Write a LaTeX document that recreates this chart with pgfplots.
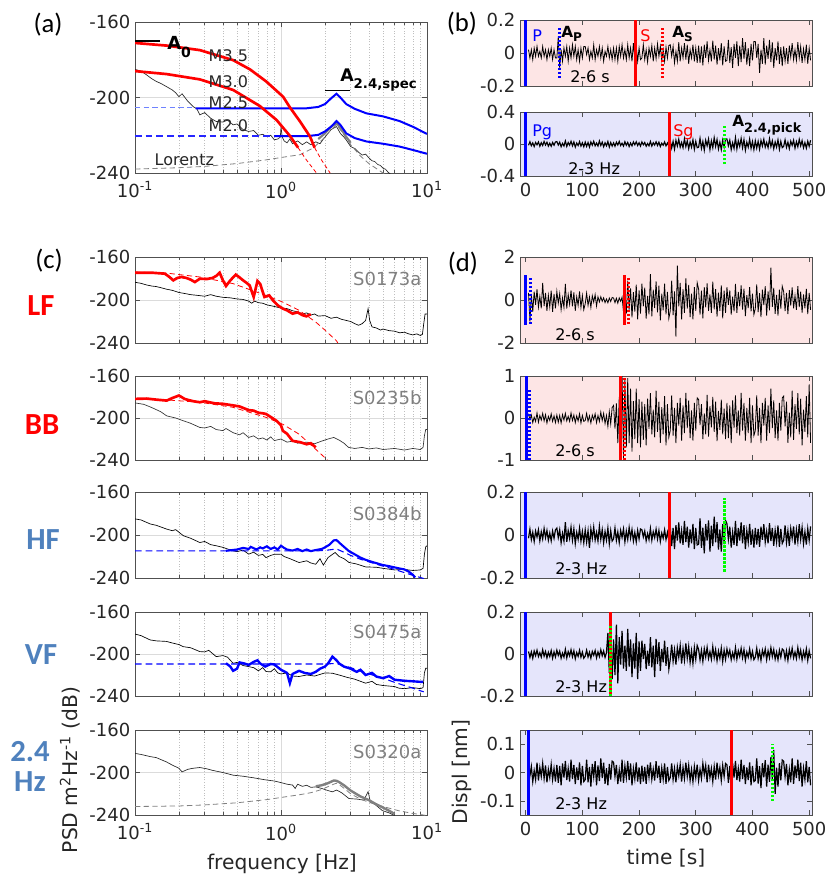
\documentclass[border=0pt]{standalone}
\usepackage{fontspec}
\setmainfont{DejaVu Sans}
\newfontfamily\calib{Carlito}
\usepackage{pgfplots}
\usepackage{pgfplotstable}
\pgfplotsset{compat=1.18}

\definecolor{axc}{RGB}{80,80,80}
\definecolor{txc}{RGB}{38,38,38}
\definecolor{pinkbg}{RGB}{253,229,229}
\definecolor{lavbg}{RGB}{229,229,251}
\definecolor{sblue}{RGB}{79,129,189}
\definecolor{lgreen}{RGB}{0,255,0}
\definecolor{lblue}{RGB}{110,130,255}

\newcommand\tfont{\fontsize{13.5}{14}\selectfont}
\newcommand\lfont{\fontsize{15.2}{16}\selectfont}
\newcommand\nfont{\fontsize{12}{13}\selectfont}

% seismograms, one sample every 2.5 s from t = 5 s
\pgfplotstableread[row sep=crcr]{y\\
0.02\\ -0.03\\ 0.02\\ -0.04\\ 0.03\\ -0.02\\ 0.04\\ -0.02\\ 0.01\\ -0.03\\ 0.04\\ -0.02\\ 0.02\\ -0.04\\ 0.02\\ -0.02\\ 0.03\\ -0.04\\ 0.02\\ -0.03\\
-0.03\\ 0.10\\ -0.09\\ 0.02\\ -0.05\\ 0.03\\ -0.02\\ 0.04\\ -0.05\\ 0.03\\ -0.03\\ 0.05\\ -0.02\\ 0.04\\ -0.04\\ 0.02\\ -0.05\\ 0.03\\ -0.03\\ 0.04\\
0.04\\ -0.01\\ 0.03\\ -0.04\\ 0.01\\ -0.03\\ 0.05\\ -0.04\\ 0.02\\ -0.02\\ 0.04\\ -0.03\\ 0.03\\ -0.05\\ 0.01\\ -0.02\\ 0.04\\ -0.03\\ 0.02\\ -0.04\\
0.03\\ -0.04\\ 0.03\\ -0.05\\ 0.04\\ -0.02\\ 0.05\\ -0.03\\ 0.02\\ -0.04\\ 0.05\\ -0.03\\ 0.03\\ -0.05\\ 0.06\\ -0.04\\ 0.04\\ -0.05\\ 0.03\\ -0.04\\
-0.03\\ 0.05\\ -0.04\\ 0.02\\ -0.055\\ 0.03\\ -0.02\\ 0.045\\ -0.05\\ 0.03\\ -0.035\\ 0.055\\ -0.02\\ 0.04\\ -0.045\\ 0.02\\ -0.05\\ 0.035\\ -0.03\\ 0.045\\
0.05\\ -0.02\\ 0.04\\ -0.06\\ 0.01\\ -0.05\\ 0.065\\ -0.05\\ 0.03\\ -0.03\\ 0.06\\ -0.04\\ 0.05\\ -0.065\\ 0.02\\ -0.03\\ 0.05\\ -0.05\\ 0.03\\ -0.06\\
0.045\\ -0.06\\ 0.04\\ -0.075\\ 0.05\\ -0.03\\ 0.07\\ -0.045\\ 0.02\\ -0.05\\ 0.075\\ -0.04\\ 0.045\\ -0.07\\ 0.03\\ -0.045\\ 0.06\\ -0.075\\ 0.04\\ -0.05\\
-0.045\\ 0.08\\ -0.06\\ 0.035\\ -0.09\\ 0.055\\ -0.03\\ 0.07\\ -0.08\\ 0.045\\ -0.055\\ 0.09\\ -0.035\\ 0.065\\ -0.07\\ 0.03\\ -0.08\\ 0.055\\ -0.045\\ 0.07\\
0.07\\ -0.03\\ 0.055\\ -0.12\\ 0.02\\ -0.065\\ 0.09\\ -0.07\\ 0.045\\ -0.035\\ 0.08\\ -0.055\\ 0.065\\ -0.09\\ 0.03\\ -0.045\\ 0.07\\ -0.065\\ 0.035\\ -0.08\\
0.04\\ -0.05\\ 0.03\\ -0.065\\ 0.045\\ -0.025\\ 0.06\\ -0.04\\ 0.02\\ -0.045\\ 0.065\\ -0.03\\ 0.04\\ -0.06\\ 0.025\\ -0.04\\ 0.05\\ -0.065\\ 0.03\\ -0.045\\
}\tbtop

\pgfplotstableread[row sep=crcr]{y\\
-0.016\\ 0.028\\ -0.022\\ 0.013\\ -0.032\\ 0.019\\ -0.01\\ 0.026\\ -0.028\\ 0.016\\ -0.019\\ 0.032\\ -0.013\\ 0.023\\ -0.026\\ 0.01\\ -0.028\\ 0.019\\ -0.016\\ 0.026\\
0.03\\ -0.012\\ 0.023\\ -0.034\\ 0.008\\ -0.026\\ 0.038\\ -0.03\\ 0.019\\ -0.015\\ 0.034\\ -0.023\\ 0.026\\ -0.038\\ 0.012\\ -0.019\\ 0.03\\ -0.026\\ 0.015\\ -0.034\\
0.023\\ -0.03\\ 0.019\\ -0.038\\ 0.026\\ -0.015\\ 0.034\\ -0.023\\ 0.012\\ -0.026\\ 0.038\\ -0.019\\ 0.023\\ -0.034\\ 0.015\\ -0.023\\ 0.03\\ -0.038\\ 0.019\\ -0.026\\
0.015\\ -0.028\\ 0.023\\ -0.013\\ 0.032\\ -0.019\\ 0.01\\ -0.026\\ 0.028\\ -0.016\\ 0.019\\ -0.032\\ 0.013\\ -0.023\\ 0.026\\ -0.01\\ 0.028\\ -0.019\\ 0.016\\ -0.026\\
0.026\\ -0.01\\ 0.019\\ -0.028\\ 0.006\\ -0.023\\ 0.032\\ -0.026\\ 0.016\\ -0.013\\ 0.028\\ -0.019\\ 0.023\\ -0.032\\ 0.01\\ -0.016\\ 0.026\\ -0.023\\ 0.013\\ -0.028\\
0.04\\ -0.052\\ 0.033\\ -0.065\\ 0.046\\ -0.026\\ 0.059\\ -0.04\\ 0.02\\ -0.046\\ 0.065\\ -0.033\\ 0.04\\ -0.059\\ 0.026\\ -0.04\\ 0.052\\ -0.065\\ 0.033\\ -0.046\\
-0.04\\ 0.07\\ -0.055\\ 0.031\\ -0.078\\ 0.047\\ -0.023\\ 0.062\\ -0.07\\ 0.04\\ -0.047\\ 0.078\\ -0.031\\ 0.055\\ -0.062\\ 0.023\\ -0.07\\ 0.047\\ -0.04\\ 0.062\\
0.062\\ -0.023\\ 0.047\\ -0.07\\ 0.016\\ -0.055\\ 0.078\\ -0.062\\ 0.04\\ -0.031\\ 0.07\\ -0.047\\ 0.055\\ -0.078\\ 0.023\\ -0.04\\ 0.062\\ -0.055\\ 0.031\\ -0.07\\
0.04\\ -0.052\\ 0.033\\ -0.065\\ 0.046\\ -0.026\\ 0.059\\ -0.04\\ 0.02\\ -0.046\\ 0.065\\ -0.033\\ 0.04\\ -0.059\\ 0.026\\ -0.04\\ 0.052\\ -0.065\\ 0.033\\ -0.046\\
-0.029\\ 0.052\\ -0.042\\ 0.023\\ -0.058\\ 0.035\\ -0.018\\ 0.047\\ -0.052\\ 0.029\\ -0.035\\ 0.058\\ -0.023\\ 0.042\\ -0.047\\ 0.018\\ -0.052\\ 0.035\\ -0.029\\ 0.047\\
}\tbbot

\pgfplotstableread[row sep=crcr]{y\\
0.33\\ -1.0\\ 0.28\\ -0.55\\ 0.39\\ -0.22\\ 0.5\\ -0.33\\ 0.17\\ -0.39\\ 0.8\\ -0.28\\ 0.33\\ -0.5\\ 0.22\\ -0.33\\ 0.44\\ -0.55\\ 0.28\\ -0.39\\
0.4\\ -0.15\\ 0.3\\ -0.45\\ 0.1\\ -0.35\\ 0.75\\ -0.4\\ 0.25\\ -0.2\\ 0.45\\ -0.3\\ 0.35\\ -0.5\\ 0.15\\ -0.25\\ 0.4\\ -0.35\\ 0.2\\ -0.45\\
-0.18\\ 0.32\\ -0.25\\ 0.14\\ -0.35\\ 0.2\\ -0.1\\ 0.25\\ -0.28\\ 0.15\\ -0.09\\ 0.15\\ -0.06\\ 0.1\\ -0.12\\ 0.05\\ -0.13\\ 0.09\\ -0.07\\ 0.12\\
0.09\\ -0.12\\ 0.08\\ -0.15\\ 0.1\\ -0.06\\ 0.13\\ -0.54\\ 0.27\\ -0.63\\ 0.9\\ -0.45\\ 0.54\\ -0.81\\ 0.36\\ -0.54\\ 0.72\\ -0.9\\ 0.45\\ -0.63\\
0.76\\ -0.29\\ 0.57\\ -0.86\\ 0.19\\ -0.67\\ 1.2\\ -0.76\\ 0.48\\ -0.38\\ 0.86\\ -0.57\\ 0.67\\ -0.95\\ 0.29\\ -0.48\\ 0.76\\ -0.67\\ 0.38\\ -0.86\\
-0.5\\ 0.9\\ -0.7\\ 0.4\\ -1.7\\ 1.6\\ -0.3\\ 0.8\\ -0.9\\ 0.5\\ -0.6\\ 1.0\\ -0.4\\ 0.7\\ -0.8\\ 0.3\\ -0.9\\ 0.6\\ -0.5\\ 0.8\\
0.51\\ -0.68\\ 0.43\\ -0.85\\ 0.6\\ -0.34\\ 0.77\\ -0.51\\ 0.26\\ -0.6\\ 0.85\\ -0.43\\ 0.51\\ -0.77\\ 0.34\\ -0.51\\ 0.68\\ -0.85\\ 0.43\\ -0.6\\
0.6\\ -0.23\\ 0.45\\ -0.68\\ 0.15\\ -0.53\\ 0.75\\ -0.6\\ 0.38\\ -0.3\\ 0.68\\ -0.45\\ 0.53\\ -0.75\\ 0.23\\ -0.38\\ 0.6\\ -0.53\\ 0.3\\ -0.68\\
-0.4\\ 0.72\\ -0.56\\ 0.32\\ -0.8\\ 0.48\\ -0.24\\ 0.64\\ -0.72\\ 0.4\\ -0.48\\ 1.5\\ -0.32\\ 0.56\\ -0.64\\ 0.24\\ -0.72\\ 0.48\\ -0.4\\ 0.64\\
0.39\\ -0.52\\ 0.33\\ -0.65\\ 0.46\\ -0.26\\ 0.59\\ -0.39\\ 0.2\\ -0.46\\ 0.65\\ -0.33\\ 0.39\\ -0.59\\ 0.26\\ -0.39\\ 0.52\\ -0.65\\ 0.33\\ -0.46\\
}\tdone

\pgfplotstableread[row sep=crcr]{y\\
0.1\\ -0.04\\ 0.07\\ -0.11\\ 0.02\\ -0.08\\ 0.12\\ -0.1\\ 0.06\\ -0.05\\ 0.11\\ -0.07\\ 0.08\\ -0.12\\ 0.04\\ -0.06\\ 0.1\\ -0.08\\ 0.05\\ -0.11\\
0.07\\ -0.1\\ 0.06\\ -0.12\\ 0.08\\ -0.05\\ 0.11\\ -0.07\\ 0.04\\ -0.08\\ 0.12\\ -0.06\\ 0.07\\ -0.11\\ 0.05\\ -0.07\\ 0.1\\ -0.12\\ 0.06\\ -0.08\\
-0.06\\ 0.11\\ -0.08\\ 0.05\\ -0.12\\ 0.07\\ -0.04\\ 0.1\\ -0.11\\ 0.06\\ -0.08\\ 0.14\\ -0.06\\ 0.11\\ -0.13\\ 0.06\\ -0.2\\ 0.15\\ -0.14\\ 0.25\\
0.3\\ -0.25\\ 0.35\\ -0.6\\ 0.5\\ -0.8\\ 1.0\\ -0.95\\ 0.9\\ -0.7\\ 0.95\\ -0.6\\ 0.7\\ -0.8\\ 0.4\\ -0.5\\ 0.7\\ -0.6\\ 0.45\\ -0.7\\
0.39\\ -0.52\\ 0.33\\ -0.65\\ 0.46\\ -0.26\\ 0.59\\ -0.39\\ 0.2\\ -0.46\\ 0.65\\ -0.33\\ 0.39\\ -0.59\\ 0.26\\ -0.39\\ 0.52\\ -0.65\\ 0.33\\ -0.46\\
-0.3\\ 0.54\\ -0.42\\ 0.24\\ -0.6\\ 0.36\\ -0.18\\ 0.48\\ -0.54\\ 0.3\\ -0.36\\ 0.6\\ -0.24\\ 0.42\\ -0.48\\ 0.18\\ -0.54\\ 0.36\\ -0.3\\ 0.48\\
0.44\\ -0.17\\ 0.33\\ -0.5\\ 0.11\\ -0.39\\ 0.55\\ -0.44\\ 0.28\\ -0.22\\ 0.5\\ -0.33\\ 0.39\\ -0.55\\ 0.17\\ -0.28\\ 0.44\\ -0.39\\ 0.22\\ -0.5\\
0.36\\ -0.48\\ 0.3\\ -0.6\\ 0.42\\ -0.24\\ 0.54\\ -0.36\\ 0.18\\ -0.42\\ 0.6\\ -0.3\\ 0.36\\ -0.54\\ 0.24\\ -0.36\\ 0.48\\ -0.6\\ 0.3\\ -0.42\\
-0.3\\ 0.54\\ -0.42\\ 0.24\\ -0.6\\ 0.36\\ -0.18\\ 0.48\\ -0.54\\ 0.3\\ -0.36\\ 0.7\\ -0.24\\ 0.42\\ -0.48\\ 0.18\\ -0.54\\ 0.36\\ -0.3\\ 0.48\\
0.52\\ -0.2\\ 0.39\\ -0.59\\ 0.13\\ -0.46\\ 0.65\\ -0.52\\ 0.33\\ -0.26\\ 0.59\\ -0.39\\ 0.46\\ -0.65\\ 0.2\\ -0.33\\ 0.52\\ -0.46\\ 0.8\\ -0.59\\
}\tdtwo

\pgfplotstableread[row sep=crcr]{y\\
-0.015\\ 0.027\\ -0.021\\ 0.012\\ -0.03\\ 0.018\\ -0.009\\ 0.024\\ -0.027\\ 0.015\\ -0.018\\ 0.03\\ -0.012\\ 0.021\\ -0.024\\ 0.009\\ -0.027\\ 0.018\\ -0.015\\ 0.024\\
0.032\\ -0.012\\ 0.024\\ -0.036\\ 0.008\\ -0.028\\ 0.06\\ -0.032\\ 0.02\\ -0.016\\ 0.036\\ -0.024\\ 0.028\\ -0.04\\ 0.012\\ -0.02\\ 0.032\\ -0.028\\ 0.016\\ -0.036\\
0.024\\ -0.032\\ 0.02\\ -0.06\\ 0.028\\ -0.016\\ 0.036\\ -0.024\\ 0.012\\ -0.028\\ 0.04\\ -0.02\\ 0.024\\ -0.036\\ 0.016\\ -0.024\\ 0.032\\ -0.04\\ 0.02\\ -0.028\\
-0.018\\ 0.032\\ -0.025\\ 0.014\\ -0.035\\ 0.021\\ -0.011\\ 0.028\\ -0.032\\ 0.018\\ -0.021\\ 0.035\\ -0.014\\ 0.025\\ -0.028\\ 0.011\\ -0.032\\ 0.021\\ -0.018\\ 0.028\\
0.024\\ -0.009\\ 0.018\\ -0.027\\ 0.006\\ -0.021\\ 0.03\\ -0.024\\ 0.015\\ -0.012\\ 0.027\\ -0.018\\ 0.021\\ -0.03\\ 0.009\\ -0.015\\ 0.024\\ -0.021\\ 0.012\\ -0.027\\
0.039\\ -0.052\\ 0.033\\ -0.065\\ 0.046\\ -0.026\\ 0.059\\ -0.039\\ 0.02\\ -0.046\\ 0.065\\ -0.033\\ 0.039\\ -0.059\\ 0.026\\ -0.039\\ 0.052\\ -0.065\\ 0.033\\ -0.046\\
-0.043\\ 0.077\\ -0.06\\ 0.034\\ -0.085\\ 0.051\\ -0.026\\ 0.068\\ -0.077\\ 0.043\\ -0.051\\ 0.085\\ -0.034\\ 0.06\\ -0.068\\ 0.026\\ -0.077\\ 0.051\\ -0.043\\ 0.068\\
0.052\\ -0.02\\ 0.039\\ -0.059\\ 0.013\\ -0.046\\ 0.065\\ -0.052\\ 0.033\\ -0.026\\ 0.059\\ -0.039\\ 0.046\\ -0.065\\ 0.02\\ -0.033\\ 0.052\\ -0.046\\ 0.026\\ -0.059\\
0.033\\ -0.044\\ 0.028\\ -0.055\\ 0.039\\ -0.022\\ 0.05\\ -0.033\\ 0.017\\ -0.039\\ 0.055\\ -0.028\\ 0.033\\ -0.05\\ 0.022\\ -0.033\\ 0.044\\ -0.055\\ 0.028\\ -0.039\\
-0.025\\ 0.045\\ -0.035\\ 0.02\\ -0.05\\ 0.03\\ -0.015\\ 0.04\\ -0.045\\ 0.025\\ -0.03\\ 0.05\\ -0.02\\ 0.035\\ -0.04\\ 0.015\\ -0.045\\ 0.03\\ -0.025\\ 0.04\\
}\tdthree

\pgfplotstableread[row sep=crcr]{y\\
0.012\\ -0.016\\ 0.01\\ -0.02\\ 0.014\\ -0.008\\ 0.018\\ -0.012\\ 0.006\\ -0.014\\ 0.02\\ -0.01\\ 0.012\\ -0.018\\ 0.008\\ -0.012\\ 0.016\\ -0.02\\ 0.01\\ -0.014\\
0.018\\ -0.007\\ 0.013\\ -0.02\\ 0.004\\ -0.015\\ 0.022\\ -0.018\\ 0.011\\ -0.009\\ 0.02\\ -0.013\\ 0.015\\ -0.022\\ 0.007\\ -0.011\\ 0.018\\ -0.015\\ 0.009\\ -0.02\\
-0.01\\ 0.018\\ -0.014\\ 0.008\\ -0.02\\ 0.012\\ -0.006\\ 0.016\\ -0.018\\ 0.01\\ -0.012\\ 0.02\\ -0.008\\ 0.014\\ -0.016\\ 0.006\\ 0.1\\ -0.09\\ 0.06\\ -0.12\\
0.07\\ -0.1\\ 0.14\\ -0.14\\ 0.08\\ -0.05\\ 0.11\\ -0.07\\ 0.04\\ -0.08\\ 0.12\\ -0.06\\ 0.07\\ -0.11\\ 0.05\\ -0.07\\ 0.1\\ -0.12\\ 0.06\\ -0.08\\
0.064\\ -0.024\\ 0.048\\ -0.072\\ 0.016\\ -0.056\\ 0.08\\ -0.064\\ 0.04\\ -0.11\\ 0.072\\ -0.048\\ 0.056\\ -0.08\\ 0.024\\ -0.04\\ 0.064\\ -0.056\\ 0.032\\ -0.072\\
-0.025\\ 0.045\\ -0.035\\ 0.02\\ -0.05\\ 0.03\\ -0.015\\ 0.04\\ -0.045\\ 0.025\\ -0.03\\ 0.05\\ -0.02\\ 0.035\\ -0.04\\ 0.015\\ -0.045\\ 0.03\\ -0.025\\ 0.04\\
0.021\\ -0.028\\ 0.018\\ -0.035\\ 0.025\\ -0.014\\ 0.032\\ -0.021\\ 0.011\\ -0.025\\ 0.035\\ -0.018\\ 0.021\\ -0.032\\ 0.014\\ -0.021\\ 0.028\\ -0.035\\ 0.018\\ -0.025\\
0.024\\ -0.009\\ 0.018\\ -0.027\\ 0.006\\ -0.021\\ 0.03\\ -0.024\\ 0.015\\ -0.012\\ 0.027\\ -0.018\\ 0.021\\ -0.03\\ 0.009\\ -0.015\\ 0.024\\ -0.021\\ 0.012\\ -0.027\\
-0.015\\ 0.027\\ -0.021\\ 0.012\\ -0.03\\ 0.018\\ -0.009\\ 0.024\\ -0.027\\ 0.015\\ -0.018\\ 0.03\\ -0.012\\ 0.021\\ -0.024\\ 0.009\\ -0.027\\ 0.018\\ -0.015\\ 0.024\\
0.018\\ -0.024\\ 0.015\\ -0.03\\ 0.021\\ -0.012\\ 0.027\\ -0.018\\ 0.009\\ -0.021\\ 0.03\\ -0.015\\ 0.018\\ -0.027\\ 0.012\\ -0.018\\ 0.024\\ -0.03\\ 0.015\\ -0.021\\
}\tdfour

\pgfplotstableread[row sep=crcr]{y\\
0.028\\ -0.011\\ 0.021\\ -0.032\\ 0.007\\ -0.025\\ 0.035\\ -0.028\\ 0.018\\ -0.014\\ 0.032\\ -0.021\\ 0.025\\ -0.035\\ 0.011\\ -0.018\\ 0.028\\ -0.025\\ 0.014\\ -0.032\\
0.027\\ -0.036\\ 0.023\\ -0.045\\ 0.032\\ -0.018\\ 0.041\\ -0.027\\ 0.014\\ -0.032\\ 0.045\\ -0.023\\ 0.027\\ -0.041\\ 0.018\\ -0.027\\ 0.036\\ -0.045\\ 0.023\\ -0.032\\
-0.025\\ 0.045\\ -0.035\\ 0.02\\ -0.05\\ 0.03\\ -0.015\\ 0.04\\ -0.045\\ 0.025\\ -0.03\\ 0.05\\ -0.02\\ 0.035\\ -0.04\\ 0.015\\ -0.045\\ 0.03\\ -0.025\\ 0.04\\
0.036\\ -0.014\\ 0.027\\ -0.041\\ 0.009\\ -0.032\\ 0.045\\ -0.036\\ 0.023\\ -0.018\\ 0.041\\ -0.027\\ 0.032\\ -0.045\\ 0.014\\ -0.023\\ 0.036\\ -0.032\\ 0.018\\ -0.041\\
0.024\\ -0.032\\ 0.02\\ -0.04\\ 0.028\\ -0.016\\ 0.036\\ -0.024\\ 0.012\\ -0.028\\ 0.04\\ -0.02\\ 0.024\\ -0.036\\ 0.016\\ -0.024\\ 0.032\\ -0.04\\ 0.02\\ -0.028\\
-0.018\\ 0.032\\ -0.025\\ 0.014\\ -0.035\\ 0.021\\ -0.011\\ 0.028\\ -0.032\\ 0.018\\ -0.021\\ 0.035\\ -0.014\\ 0.025\\ -0.028\\ 0.011\\ -0.032\\ 0.021\\ -0.018\\ 0.028\\
-0.028\\ 0.011\\ -0.021\\ 0.032\\ -0.007\\ 0.025\\ -0.035\\ 0.028\\ -0.018\\ 0.014\\ -0.032\\ 0.021\\ -0.025\\ 0.035\\ -0.011\\ 0.018\\ -0.028\\ 0.025\\ -0.014\\ 0.032\\
0.027\\ -0.036\\ 0.023\\ -0.06\\ 0.032\\ -0.018\\ 0.041\\ -0.027\\ 0.014\\ -0.032\\ 0.045\\ -0.023\\ 0.027\\ -0.041\\ 0.018\\ -0.027\\ 0.036\\ -0.045\\ 0.023\\ -0.032\\
-0.028\\ 0.05\\ -0.039\\ 0.022\\ -0.055\\ 0.033\\ -0.017\\ 0.044\\ -0.05\\ 0.028\\ -0.033\\ 0.055\\ -0.022\\ 0.08\\ -0.075\\ 0.017\\ -0.05\\ 0.033\\ -0.028\\ 0.044\\
0.04\\ -0.015\\ 0.03\\ -0.045\\ 0.01\\ -0.035\\ 0.05\\ -0.04\\ 0.025\\ -0.02\\ 0.045\\ -0.03\\ 0.035\\ -0.05\\ 0.015\\ -0.025\\ 0.04\\ -0.035\\ 0.02\\ -0.045\\
}\tdfive

% settings shared by every axis
\pgfkeys{/pgf/number format/assume math mode=true}
\pgfplotsset{scale only axis, width=219pt}
\pgfplotsset{axis line style={draw=axc, line width=0.6pt}}
\pgfplotsset{tick style={draw=axc, line width=0.5pt}}
\pgfplotsset{tick align=inside, major tick length=3.5pt, minor tick length=2pt}
\pgfplotsset{tick label style={font=\tfont, text=txc}}
\pgfplotsset{no markers}

% spectrum panels: frequencies in Hz are placed on a decade scale (log10)
\newcommand\specaxis{\pgfplotsset{x filter/.expression={log10(x)},
    xmin=-1, xmax=1, ymin=-240, ymax=-160,
    ytick={-240,-200,-160}, xtick={-1,0,1},
    minor xtick={-0.699,-0.523,-0.398,-0.301,-0.222,-0.155,-0.097,-0.046,0.301,0.477,0.602,0.699,0.778,0.845,0.903,0.954},
    xmajorgrids=true, ymajorgrids=true, xminorgrids=true,
    major grid style={draw=black!14, line width=0.5pt},
    minor grid style={draw=black!25, line width=0.45pt, dash pattern=on 0.8pt off 1.2pt},
    xticklabels={}}}
\newcommand\seisaxis{\pgfplotsset{xmin=-10, xmax=505, xtick={0,100,200,300,400,500}, xticklabels={}}}
\newcommand\freqlabels{\pgfplotsset{xticklabels={10\textsuperscript{-1},10\textsuperscript{0},10\textsuperscript{1}}, xticklabel style={yshift=-3pt}}}
\newcommand\timelabels{\pgfplotsset{xticklabels={0,100,200,300,400,500}, xticklabel style={yshift=-1.5pt}}}

\begin{document}
\begin{tikzpicture}
\useasboundingbox (0,0) rectangle (622.5pt,-658.5pt);

% ---------------- (a) ----------------
\begin{scope}[shift={(101.25pt,-129.75pt)}]
\specaxis\freqlabels
\pgfplotsset{height=113.25pt}
\begin{axis}
\addplot[black!85, line width=0.5pt] coordinates {(0.1,-185.1)(0.11,-186)(0.12,-188)(0.13,-190)(0.14,-191.5)(0.15,-192.5)(0.165,-194.3)(0.18,-196)(0.19,-197.5)(0.2,-199.6)(0.21,-198)(0.23,-202)(0.25,-204.8)(0.265,-206)(0.278,-209.2)(0.3,-208)(0.33,-211)(0.36,-212.7)(0.4,-213)(0.43,-212)(0.47,-214.5)(0.5,-214)(0.55,-217)(0.6,-218)(0.65,-217.5)(0.7,-220)(0.75,-219.5)(0.8,-220.7)(0.85,-220)(0.9,-222.4)(0.95,-222)(0.99,-221)(1.0,-215.4)(1.02,-221)(1.05,-223)(1.1,-224)(1.15,-222)(1.2,-224.5)(1.3,-223)(1.4,-225)(1.5,-223.5)(1.6,-225)(1.73,-223.5)(1.85,-224.5)(1.95,-222)(2.05,-220)(2.2,-217)(2.4,-215.4)(2.55,-219)(2.7,-221)(2.8,-222.5)(3.0,-226)(3.2,-227)(3.4,-229)(3.6,-230.5)(3.8,-230)(4.0,-232)(4.2,-233.5)(4.4,-234)(4.6,-235.5)(4.8,-236)(5.0,-237.5)(5.2,-238)(5.4,-239.5)(5.6,-240.5)(6,-242)};
\addplot[gray, line width=1.6pt] coordinates {(1.8,-222)(2.0,-219)(2.2,-215.5)(2.4,-213.6)(2.55,-216)(2.75,-220)(3.0,-224)};
\addplot[gray, line width=0.6pt, dash pattern=on 4pt off 2.5pt] coordinates {(0.1,-237.9)(0.2,-237.2)(0.3,-236.5)(0.5,-235)(0.8,-233)(1.0,-231.8)(1.35,-230.3)(1.66,-226.8)(2.0,-221)(2.2,-217)(2.4,-214.5)(2.6,-218)(3.0,-225)(3.5,-231)(4,-235)(5,-240)(5.5,-242)};
\addplot[lblue, line width=0.6pt, dash pattern=on 4pt off 2.5pt] coordinates {(0.1,-205.5)(0.26,-205.5)};
\addplot[blue, line width=1.5pt] coordinates {(0.26,-205.7)(1.0,-205.7)(1.5,-205.7)(1.8,-205)(2.0,-203.5)(2.2,-200.5)(2.4,-198)(2.55,-200)(2.8,-203.5)(3.2,-206)(3.85,-208.4)(5,-210)(6.5,-212.5)(8,-215.5)(10,-219.3)};
\addplot[blue!85, line width=1.1pt, dash pattern=on 5pt off 3pt] coordinates {(0.1,-220.3)(0.9,-220.3)};
\addplot[blue, line width=1.5pt] coordinates {(0.9,-220.5)(1.5,-220.5)(1.8,-219.8)(2.0,-218)(2.2,-215.5)(2.4,-212.5)(2.55,-214.5)(2.8,-219)(3.2,-221.5)(3.85,-223.3)(5,-224.5)(6.5,-226)(8,-227.8)(10,-229.8)};
\addplot[red, line width=2pt] coordinates {(0.1,-171.1)(0.165,-172.5)(0.278,-174.9)(0.47,-180.2)(0.613,-185.1)(0.795,-191.6)(1.034,-199.6)(1.15,-205.2)(1.35,-212.7)(1.58,-220.7)(1.70,-226.6)};
\addplot[red, line width=0.6pt, dash pattern=on 3pt off 2pt] coordinates {(1.70,-226.6)(1.89,-233)(2.17,-240)};
\addplot[red, line width=2pt] coordinates {(0.1,-186)(0.165,-187.6)(0.278,-190.4)(0.47,-196)(0.716,-204.5)(0.932,-211.9)(1.15,-220.3)(1.31,-226.6)};
\addplot[red, line width=0.6pt, dash pattern=on 3pt off 2pt] coordinates {(1.31,-226.6)(1.49,-233)(1.75,-240)};
\addplot[black, line width=1.4pt] coordinates {(0.1,-170)(0.148,-170)};
\addplot[black, line width=0.6pt] coordinates {(2.0,-196.4)(2.96,-196.4)};
\end{axis}
\end{scope}

% ---------------- (b) ----------------
\begin{scope}[shift={(390pt,-64.5pt)}]
\seisaxis
\pgfplotsset{height=49.5pt, ymin=-0.2, ymax=0.2, ytick={-0.2,0,0.2}, axis background/.style={fill=pinkbg}}
\begin{axis}
\addplot[black, line width=0.6pt] table[x expr=\coordindex*2.5+5, y=y] {\tbtop};
\addplot[blue, line width=2.2pt] coordinates {(0,-0.2)(0,0.2)};
\addplot[blue, line width=2.2pt, dash pattern=on 1.6pt off 1.4pt] coordinates {(59,-0.15)(59,0.15)};
\addplot[red, line width=2.2pt] coordinates {(193,-0.2)(193,0.2)};
\addplot[red, line width=2.2pt, dash pattern=on 1.6pt off 1.4pt] coordinates {(241,-0.15)(241,0.15)};
\end{axis}
\end{scope}

\begin{scope}[shift={(390pt,-132pt)}]
\seisaxis\timelabels
\pgfplotsset{height=48pt, ymin=-0.4, ymax=0.4, ytick={-0.4,0,0.4}, axis background/.style={fill=lavbg}}
\begin{axis}
\addplot[black, line width=0.85pt] table[x expr=\coordindex*2.5+5, y=y] {\tbbot};
\addplot[blue, line width=2.2pt] coordinates {(0,-0.4)(0,0.4)};
\addplot[red, line width=2.2pt] coordinates {(254,-0.4)(254,0.4)};
\addplot[lgreen, line width=2.2pt, dash pattern=on 1.6pt off 1.4pt] coordinates {(351,-0.25)(351,0.25)};
\end{axis}
\end{scope}

% ---------------- (c) ----------------
\begin{scope}[shift={(101.25pt,-257.25pt)}]
\specaxis
\pgfplotsset{height=64.5pt}
\begin{axis}
\addplot[black, line width=0.5pt] coordinates {(0.1,-183.5)(0.11,-184.5)(0.12,-186)(0.13,-187)(0.14,-187.5)(0.15,-188.5)(0.165,-190)(0.18,-191)(0.2,-193)(0.22,-194)(0.24,-195)(0.26,-195.5)(0.28,-196)(0.3,-196.5)(0.33,-195)(0.36,-196.5)(0.4,-197.5)(0.45,-198)(0.5,-199)(0.55,-199.5)(0.6,-201)(0.63,-203)(0.66,-201)(0.7,-202.5)(0.75,-203)(0.8,-204.5)(0.9,-206)(1.0,-207.5)(1.1,-208)(1.2,-210)(1.3,-211)(1.4,-213)(1.5,-212)(1.6,-214)(1.7,-213)(1.8,-215)(2.0,-214.5)(2.2,-217)(2.4,-216)(2.6,-218)(2.8,-219)(3.0,-220)(3.2,-222)(3.4,-223.5)(3.6,-222)(3.8,-219)(3.95,-208)(4.05,-219)(4.2,-225)(4.5,-226)(4.8,-228)(5.0,-227)(5.5,-228.5)(6.0,-229)(6.5,-230.5)(7.0,-230)(7.5,-231.5)(8.0,-232.5)(8.5,-231.5)(9.0,-233)(9.3,-232)(9.5,-222)(9.7,-213)(10,-213)};
\addplot[red, line width=2pt] coordinates {(0.1,-174.6)(0.13,-174.6)(0.16,-175.5)(0.17,-178)(0.183,-181.7)(0.195,-179.5)(0.208,-178.6)(0.225,-179.5)(0.24,-181)(0.257,-183.3)(0.278,-180.2)(0.31,-180.5)(0.34,-179.5)(0.36,-177.6)(0.38,-174.6)(0.4,-181.7)(0.42,-187)(0.45,-181.7)(0.49,-176.4)(0.52,-179)(0.55,-181.7)(0.58,-184)(0.61,-186.4)(0.65,-197.2)(0.69,-182.3)(0.72,-185)(0.77,-197.2)(0.83,-195.7)(0.88,-200.3)(0.95,-205)(1.03,-208)(1.1,-209.6)(1.2,-212.7)(1.3,-211.5)(1.4,-214)(1.49,-215.2)(1.6,-213.3)};
\addplot[red, line width=0.6pt, dash pattern=on 4pt off 2.5pt] coordinates {(0.1,-174)(0.165,-175)(0.278,-178.6)(0.47,-184.8)(0.79,-195.7)(1.03,-202)(1.33,-209.6)(1.73,-220.5)(2.0,-228)(2.4,-238)(2.45,-240)};
\end{axis}
\end{scope}

\begin{scope}[shift={(101.25pt,-345pt)}]
\specaxis
\pgfplotsset{height=63pt}
\begin{axis}
\addplot[black!80, line width=0.5pt] coordinates {(0.1,-185.6)(0.115,-187)(0.13,-190)(0.15,-194)(0.165,-198)(0.19,-200)(0.214,-202.6)(0.24,-205)(0.278,-209)(0.3,-209.5)(0.33,-208)(0.36,-211)(0.4,-212)(0.42,-210)(0.47,-214)(0.52,-216)(0.55,-214)(0.6,-218.5)(0.65,-217)(0.7,-220)(0.75,-219)(0.8,-221)(0.85,-218)(0.9,-221.5)(1.0,-220)(1.1,-223)(1.2,-222)(1.3,-224)(1.5,-223)(1.7,-224.5)(1.9,-222)(2.1,-220)(2.3,-218.5)(2.5,-221)(2.7,-224)(2.9,-228)(3.2,-229)(3.6,-228)(4,-229.5)(4.5,-228.5)(5,-230)(6,-229)(7,-230.5)(8,-229)(9,-230)(9.4,-228)(9.6,-217)(9.8,-211)(10,-211)};
\addplot[red, line width=2pt] coordinates {(0.1,-181.8)(0.12,-181.5)(0.14,-182.5)(0.165,-183.4)(0.18,-181)(0.2,-178.6)(0.22,-182)(0.25,-184)(0.278,-185)(0.3,-184)(0.35,-186)(0.4,-186.5)(0.47,-188)(0.52,-189)(0.6,-192.5)(0.65,-193)(0.7,-195)(0.75,-195.5)(0.79,-196.2)(0.85,-199)(0.93,-202.6)(1.0,-207)(1.03,-212.2)(1.1,-215)(1.2,-221.8)(1.35,-223)(1.5,-225)(1.6,-224)(1.73,-228)};
\addplot[red, line width=0.6pt, dash pattern=on 4pt off 2.5pt] coordinates {(0.1,-181.8)(0.165,-182.8)(0.278,-185)(0.468,-189.8)(0.79,-199.4)(1.03,-206)(1.33,-215.4)(1.73,-229.8)(2.08,-240)};
\end{axis}
\end{scope}

\begin{scope}[shift={(101.25pt,-433.5pt)}]
\specaxis
\pgfplotsset{height=64.5pt}
\begin{axis}
\addplot[black, line width=0.5pt] coordinates {(0.1,-185)(0.11,-186)(0.127,-189.7)(0.14,-191)(0.164,-194.4)(0.18,-196)(0.19,-195)(0.214,-200.6)(0.24,-203)(0.278,-207)(0.3,-206)(0.33,-209)(0.36,-210)(0.4,-211.5)(0.468,-214.7)(0.5,-215.5)(0.55,-214)(0.6,-217.8)(0.65,-216)(0.7,-219)(0.75,-218)(0.79,-221)(0.85,-219)(0.9,-218)(1.0,-217.8)(1.05,-220)(1.15,-222)(1.33,-225.6)(1.5,-224)(1.6,-226)(1.73,-227.2)(1.85,-222)(1.95,-228)(2.1,-221)(2.25,-218)(2.35,-216.3)(2.5,-220)(2.7,-222)(2.92,-225.5)(3.3,-227)(3.8,-229.7)(4.5,-230)(5,-231)(6,-232.5)(7,-232)(8,-233)(9,-232.5)(9.4,-231)(9.6,-218)(9.8,-211)(10,-210)};
\addplot[blue, line width=1.6pt] coordinates {(0.42,-214.7)(0.5,-213.5)(0.55,-212)(0.6,-213)(0.62,-211)(0.68,-213.5)(0.72,-211.5)(0.75,-212.5)(0.8,-210.5)(0.85,-213)(0.9,-211.5)(0.95,-213.5)(1.0,-210)(1.05,-212)(1.1,-213.5)(1.2,-214.5)(1.3,-213)(1.4,-215)(1.5,-213.5)(1.6,-215)(1.73,-214)(1.9,-213)(2.0,-211.5)(2.15,-209)(2.3,-205)(2.4,-204.7)(2.5,-207)(2.7,-211)(2.92,-215)(3.2,-218)(3.5,-221)(3.8,-223.1)(4.2,-225)(4.94,-227.8)(5.5,-229)(6.41,-231)(7,-232)(7.5,-234)(8,-237)(8.3,-239.5)};
\addplot[blue, line width=0.8pt, dash pattern=on 5pt off 3pt] coordinates {(0.1,-214.7)(1.8,-214.7)(2.1,-214)(2.4,-213)(2.7,-216)(3,-219)(3.5,-222.5)(4,-225)(5,-229)(6,-232)(7,-235)(8,-237.5)(9,-239.5)(9.5,-240.5)};
\end{axis}
\end{scope}

\begin{scope}[shift={(101.25pt,-522pt)}]
\specaxis
\pgfplotsset{height=63pt}
\begin{axis}
\addplot[black, line width=0.5pt] coordinates {(0.1,-181)(0.11,-182.5)(0.127,-186.6)(0.14,-187.5)(0.164,-188)(0.18,-189.5)(0.2,-191)(0.214,-193)(0.24,-194)(0.278,-197.7)(0.3,-198)(0.32,-196.5)(0.36,-202.5)(0.4,-201.5)(0.43,-203)(0.47,-208.8)(0.5,-208)(0.55,-211)(0.6,-212)(0.65,-213)(0.7,-216)(0.75,-213)(0.79,-216.7)(0.85,-217)(0.9,-214)(0.95,-218)(1.0,-219)(1.1,-218)(1.2,-221)(1.33,-221.4)(1.5,-220)(1.7,-221)(2.0,-218)(2.25,-218.3)(2.5,-220)(2.8,-222)(3.2,-224)(3.8,-227.8)(4.2,-226)(4.5,-229)(5,-230)(6,-231)(6.41,-232.5)(7,-233)(8,-232)(9,-233)(9.4,-232)(9.6,-218)(9.8,-213.6)(10,-213.6)};
\addplot[blue, line width=1.8pt] coordinates {(0.42,-208.8)(0.45,-212)(0.47,-216)(0.5,-214)(0.52,-208)(0.56,-209)(0.6,-210.5)(0.65,-207.5)(0.69,-206)(0.72,-209)(0.78,-212)(0.85,-209.5)(0.9,-210)(1.0,-215)(1.1,-218)(1.15,-227.8)(1.2,-219)(1.33,-216)(1.45,-218)(1.6,-219)(1.73,-217)(1.85,-214)(2.0,-212)(2.1,-209)(2.25,-202.5)(2.4,-206)(2.5,-209)(2.7,-212)(3.0,-214)(3.3,-217)(3.5,-215)(3.8,-220)(4.2,-218)(4.5,-221.5)(5,-223)(5.5,-221)(6,-224.5)(7,-225.5)(8,-226)(9,-226.5)(9.4,-226.5)};
\addplot[blue, line width=0.8pt, dash pattern=on 5pt off 3pt] coordinates {(0.1,-209.5)(1.0,-209.5)(2.0,-209.5)(2.4,-209)(3,-213)(4,-219)(5,-223)(6,-227)(7,-230)(8,-232.5)(9,-235)(9.5,-236)};
\end{axis}
\end{scope}

\begin{scope}[shift={(101.25pt,-611.25pt)}]
\specaxis\freqlabels
\pgfplotsset{height=63.75pt}
\begin{axis}
\addplot[black!85, line width=0.5pt] coordinates {(0.1,-182)(0.11,-183)(0.127,-185)(0.14,-186)(0.164,-190)(0.18,-193)(0.2,-196)(0.21,-199.4)(0.23,-197)(0.25,-196)(0.278,-195.3)(0.31,-196.5)(0.34,-198)(0.4,-200)(0.47,-202.5)(0.55,-203.5)(0.65,-205)(0.79,-207)(0.9,-208)(1.0,-209.5)(1.1,-211)(1.2,-211.8)(1.25,-215)(1.3,-211)(1.4,-213)(1.5,-212)(1.6,-214)(1.73,-213.5)(1.9,-215)(2.1,-217)(2.25,-218.2)(2.4,-216.5)(2.6,-219)(2.92,-224.5)(3.3,-225)(3.7,-226)(3.95,-218)(4.1,-228)(4.4,-230)(4.94,-235.8)(5.5,-238)(6,-240.5)};
\addplot[gray, line width=1.8pt] coordinates {(1.73,-213)(1.9,-212)(2.1,-210)(2.3,-207.5)(2.4,-207.8)(2.5,-209)(2.7,-212)(3.0,-217)(3.5,-222.5)(4.0,-226)(4.5,-230)(5.0,-233)(5.5,-236)(6.0,-239)};
\addplot[gray, line width=0.6pt, dash pattern=on 4pt off 2.5pt] coordinates {(0.1,-232)(0.2,-231.5)(0.3,-230.5)(0.5,-228.5)(0.8,-225.5)(1.0,-223.5)(1.33,-221)(1.6,-219)(1.9,-216)(2.2,-212)(2.4,-210)(2.6,-213)(3.0,-220)(3.5,-225)(4,-228)(5,-232)(6.41,-236)(8,-238.5)(10,-240.5)};
\end{axis}
\end{scope}

% ---------------- (d) ----------------
\begin{scope}[shift={(390pt,-257.25pt)}]
\seisaxis
\pgfplotsset{height=64.5pt, ymin=-2, ymax=2, ytick={-2,0,2}, axis background/.style={fill=pinkbg}}
\begin{axis}
\addplot[black, line width=0.6pt] table[x expr=\coordindex*2.5+5, y=y] {\tdone};
\addplot[blue, line width=2.2pt] coordinates {(0,-1.15)(0,1.15)};
\addplot[blue, line width=2.2pt, dash pattern=on 1.6pt off 1.4pt] coordinates {(9,-1.1)(9,1.1)};
\addplot[red, line width=2.2pt] coordinates {(174,-1.15)(174,1.15)};
\addplot[red, line width=2.2pt, dash pattern=on 1.6pt off 1.4pt] coordinates {(182,-1.1)(182,1.1)};
\end{axis}
\end{scope}

\begin{scope}[shift={(390pt,-345pt)}]
\seisaxis
\pgfplotsset{height=63pt, ymin=-1, ymax=1, ytick={-1,0,1}, axis background/.style={fill=pinkbg}}
\begin{axis}
\addplot[black, line width=0.6pt] table[x expr=\coordindex*2.5+5, y=y] {\tdtwo};
\addplot[blue, line width=2.2pt] coordinates {(1,-1)(1,1)};
\addplot[blue, line width=2.2pt, dash pattern=on 1.6pt off 1.4pt] coordinates {(6,-1)(6,0.7)};
\addplot[red, line width=2.2pt] coordinates {(168,-1)(168,1)};
\addplot[red, line width=2.2pt, dash pattern=on 1.6pt off 1.4pt] coordinates {(175,-1)(175,1)};
\end{axis}
\end{scope}

\begin{scope}[shift={(390pt,-433.5pt)}]
\seisaxis
\pgfplotsset{height=64.5pt, ymin=-0.2, ymax=0.2, ytick={-0.2,0,0.2}, axis background/.style={fill=lavbg}}
\begin{axis}
\addplot[black, line width=0.9pt] table[x expr=\coordindex*2.5+5, y=y] {\tdthree};
\addplot[blue, line width=2.2pt] coordinates {(0,-0.2)(0,0.2)};
\addplot[red, line width=2.2pt] coordinates {(254,-0.2)(254,0.2)};
\addplot[lgreen, line width=2.2pt, dash pattern=on 1.6pt off 1.4pt] coordinates {(351,-0.17)(351,0.17)};
\end{axis}
\end{scope}

\begin{scope}[shift={(390pt,-522pt)}]
\seisaxis
\pgfplotsset{height=63pt, ymin=-0.2, ymax=0.2, ytick={-0.2,0,0.2}, axis background/.style={fill=lavbg}}
\begin{axis}
\addplot[black, line width=0.9pt] table[x expr=\coordindex*2.5+5, y=y] {\tdfour};
\addplot[blue, line width=2.2pt] coordinates {(-1,-0.2)(-1,0.2)};
\addplot[red, line width=2.2pt] coordinates {(150,-0.2)(150,0.2)};
\addplot[lgreen, line width=2.2pt, dash pattern=on 1.6pt off 1.4pt] coordinates {(150,-0.2)(150,0.137)};
\end{axis}
\end{scope}

\begin{scope}[shift={(390pt,-611.25pt)}]
\seisaxis\timelabels
\pgfplotsset{height=63.75pt, ymin=-0.15, ymax=0.15, ytick={-0.1,0,0.1}, axis background/.style={fill=lavbg}}
\begin{axis}
\addplot[black, line width=0.9pt] table[x expr=\coordindex*2.5+5, y=y] {\tdfive};
\addplot[blue, line width=2.2pt] coordinates {(5,-0.15)(5,0.15)};
\addplot[red, line width=2.2pt] coordinates {(363,-0.15)(363,0.15)};
\addplot[lgreen, line width=2.2pt, dash pattern=on 1.6pt off 1.4pt] coordinates {(436,-0.1)(436,0.1)};
\end{axis}
\end{scope}

% ---------------- texts (pixel grid of the reference) ----------------
\begin{scope}[x=0.75pt, y=-0.75pt]
\node[font=\calib\fontsize{20}{20}\selectfont] at (48,25) {(a)};
\node[font=\calib\fontsize{20}{20}\selectfont] at (462,24) {(b)};
\node[font=\calib\fontsize{20}{20}\selectfont] at (49,261) {(c)};
\node[font=\calib\fontsize{20}{20}\selectfont] at (463,264) {(d)};

\node[font=\calib\bfseries\fontsize{23}{23}\selectfont, text=red] at (41,306) {LF};
\node[font=\calib\bfseries\fontsize{23}{23}\selectfont, text=red] at (42,425) {BB};
\node[font=\calib\bfseries\fontsize{23}{23}\selectfont, text=sblue] at (43,540) {HF};
\node[font=\calib\bfseries\fontsize{23}{23}\selectfont, text=sblue] at (41,655) {VF};
\node[font=\calib\bfseries\fontsize{23}{23}\selectfont, text=sblue] at (30,752) {2.4};
\node[font=\calib\bfseries\fontsize{23}{23}\selectfont, text=sblue] at (30,782) {Hz};

\node[rotate=90, font=\lfont, text=txc] at (70,770) {PSD m\textsuperscript{2}Hz\textsuperscript{-1} (dB)};
\node[rotate=90, font=\lfont, text=txc] at (462,772) {Displ [nm]};
\node[font=\lfont, text=txc] at (282,864) {frequency [Hz]};
\node[font=\lfont, text=txc] at (666,858) {time [s]};

\node[anchor=base west, font=\nfont, text=txc] at (204,61) {M3.5};
\node[anchor=base west, font=\nfont, text=txc] at (204,87.7) {M3.0};
\node[anchor=base west, font=\nfont, text=txc] at (204,108.3) {M2.5};
\node[anchor=base west, font=\nfont, text=txc] at (204,131.7) {M2.0};
\node[anchor=base west, font=\nfont, text=txc] at (150,165) {Lorentz};
\node[anchor=base west, inner sep=0pt, font=\bfseries\fontsize{13.5}{14}\selectfont] at (167,49) {A\raisebox{-6pt}{\fontsize{10.5}{11}\selectfont 0}};
\node[anchor=base west, inner sep=0pt, font=\bfseries\fontsize{13}{14}\selectfont] at (340,81.7) {A\raisebox{-5.3pt}{\fontsize{10}{11}\selectfont 2.4,spec}};

\node[anchor=base west, inner sep=0pt, font=\nfont, text=blue] at (532,41.7) {P};
\node[anchor=base west, inner sep=0pt, font=\bfseries\fontsize{11.5}{12}\selectfont] at (561,37.3) {A\raisebox{-3.3pt}{\fontsize{9}{10}\selectfont P}};
\node[anchor=base west, inner sep=0pt, font=\nfont, text=red] at (640,41.7) {S};
\node[anchor=base west, inner sep=0pt, font=\bfseries\fontsize{11.5}{12}\selectfont] at (672,37.3) {A\raisebox{-3.3pt}{\fontsize{9}{10}\selectfont S}};
\node[anchor=base west, inner sep=0pt, font=\nfont] at (570,82.7) {2-6 s};
\node[anchor=base west, inner sep=0pt, font=\nfont, text=blue] at (532,136.7) {Pg};
\node[anchor=base west, inner sep=0pt, font=\nfont, text=red] at (673,136.7) {Sg};
\node[anchor=base west, inner sep=0pt, font=\bfseries\fontsize{11.5}{12}\selectfont] at (732,126) {A\raisebox{-5pt}{\fontsize{9.6}{10}\selectfont 2.4,pick}};
\node[anchor=base west, inner sep=0pt, font=\nfont] at (568,174) {2-3 Hz};

\node[anchor=base west, inner sep=0pt, font=\nfont] at (555,340) {2-6 s};
\node[anchor=base west, inner sep=0pt, font=\nfont] at (555,456.7) {2-6 s};
\node[anchor=base west, inner sep=0pt, font=\nfont] at (555,574) {2-3 Hz};
\node[anchor=base west, inner sep=0pt, font=\nfont] at (555,692.7) {2-3 Hz};
\node[anchor=base west, inner sep=0pt, font=\nfont] at (555,809.3) {2-3 Hz};

\node[anchor=base east, inner sep=0pt, font=\tfont, text=gray] at (421.7,285) {S0173a};
\node[anchor=base east, inner sep=0pt, font=\tfont, text=gray] at (421.7,404) {S0235b};
\node[anchor=base east, inner sep=0pt, font=\tfont, text=gray] at (421.7,520) {S0384b};
\node[anchor=base east, inner sep=0pt, font=\tfont, text=gray] at (421.7,638.3) {S0475a};
\node[anchor=base east, inner sep=0pt, font=\tfont, text=gray] at (421.7,758.3) {S0320a};
\end{scope}
\end{tikzpicture}
\end{document}
